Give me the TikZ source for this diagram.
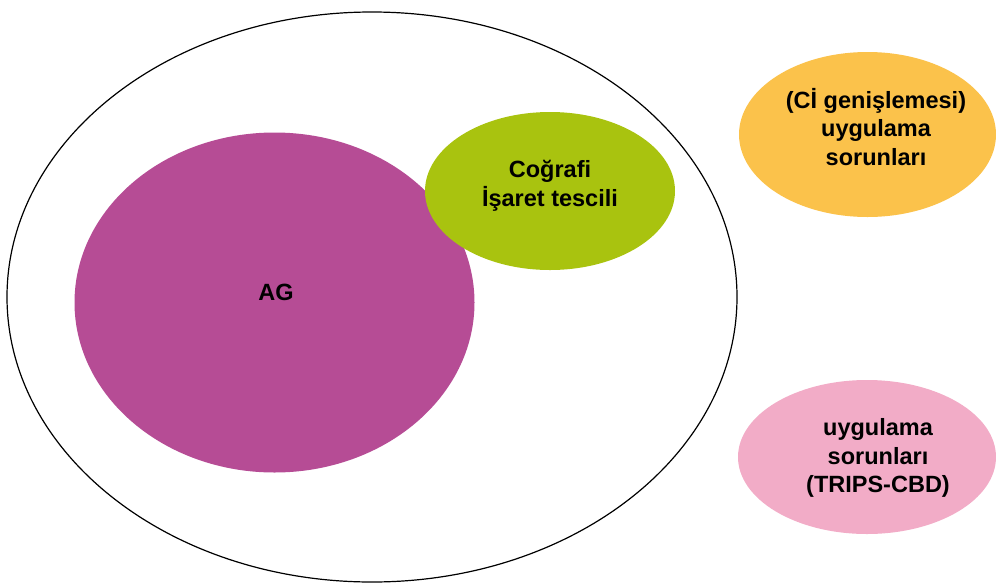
\documentclass[tikz,border=0pt]{standalone}
\usepackage{fontspec}
\setmainfont{Liberation Sans}
\usetikzlibrary{shapes.geometric}
\definecolor{agcol}{HTML}{B64C95}
\definecolor{greencol}{HTML}{A9C30F}
\definecolor{orangecol}{HTML}{FBC24B}
\definecolor{pinkcol}{HTML}{F2ACC7}
\tikzset{
  blob/.style={ellipse, inner sep=0pt, draw=none},
  lbl/.style={align=center, font=\bfseries\fontsize{23.5}{28.5}\selectfont, text=black, inner sep=0pt}
}
\begin{document}
\begin{tikzpicture}[x=1pt, y=-1pt]
\useasboundingbox (0,0) rectangle (996,587);
\node[ellipse, draw=black, line width=1.2pt, inner sep=0pt, minimum width=730pt, minimum height=570pt] (outer) at (372,297) {};
\node[blob, fill=agcol, minimum width=400pt, minimum height=340pt] (ag) at (274.5,302.5) {};
\node[blob, fill=greencol, minimum width=250pt, minimum height=158pt] (cog) at (550,191) {};
\node[blob, fill=orangecol, minimum width=257pt, minimum height=165pt] (ci) at (867.5,134.5) {};
\node[blob, fill=pinkcol, minimum width=258pt, minimum height=154pt] (trips) at (867,457) {};
\node[lbl] (agt) at (276,292) {AG};
\node[lbl] (cogt) at (550,186) {Coğrafi\\İşaret tescili};
\node[lbl] (cit) at (876,127) {(Cİ genişlemesi)\\uygulama\\sorunları};
\node[lbl] (tripst) at (878,458) {uygulama\\sorunları\\(TRIPS-CBD)};
\end{tikzpicture}
\end{document}
